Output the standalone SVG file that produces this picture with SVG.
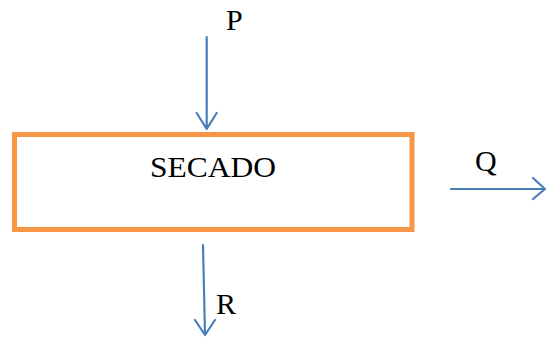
<svg xmlns="http://www.w3.org/2000/svg" width="547" height="339" viewBox="0 0 547 339">
<style>
.lbl{font-family:"Liberation Serif","Times New Roman",serif;font-size:30px;fill:#000}
.box{fill:#fff;stroke:#F79646;stroke-width:5}
.conn{fill:none;stroke:#4A7EBB;stroke-width:2.2;stroke-linecap:round;stroke-linejoin:round}
</style>
<rect width="547" height="339" fill="#fff"/>
<g id="secado">
<rect class="box" x="14.5" y="134.5" width="397.5" height="95"/>
<text class="lbl" x="150" y="176.5" textLength="126" lengthAdjust="spacingAndGlyphs">SECADO</text>
</g>
<g id="connectors">
<path class="conn" d="M206.7 37 L206.7 129 M196.7 113 L206.7 129 L216.7 113"/>
<path class="conn" d="M203 245 L205 335 M195 320 L205 335 L215 320"/>
<path class="conn" d="M451 189 L545 189 M533 178 L545 189 L533 199"/>
</g>
<g id="labels">
<text class="lbl" x="226" y="29.5">P</text>
<text class="lbl" x="475" y="170.5">Q</text>
<text class="lbl" x="216" y="313.5">R</text>
</g>
</svg>
